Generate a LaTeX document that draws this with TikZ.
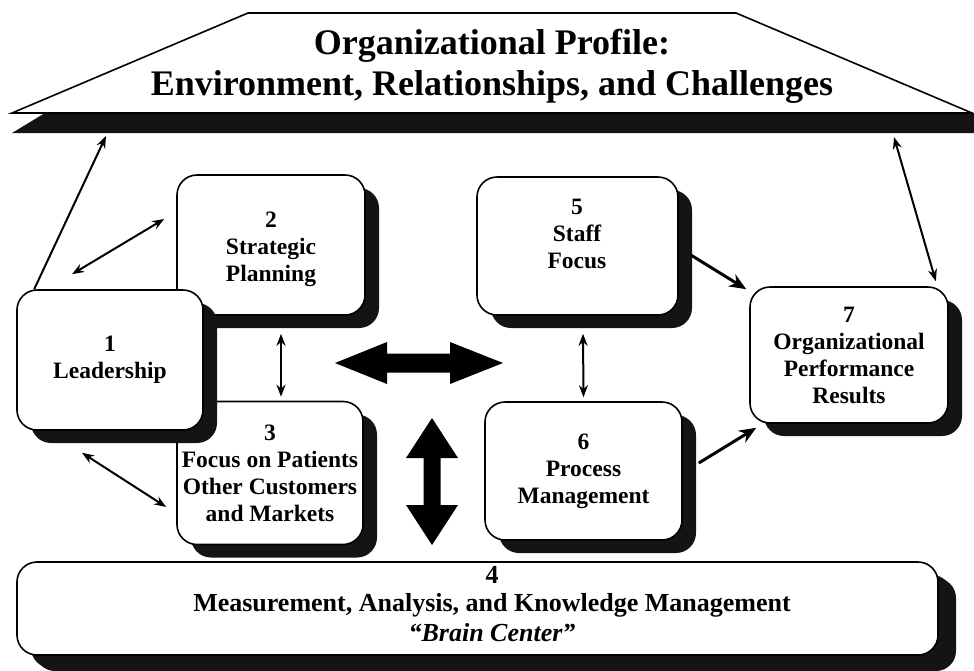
\documentclass[tikz,border=0pt]{standalone}
\usepackage{fontspec}
\setmainfont{Liberation Serif}
\usetikzlibrary{arrows.meta,shadows}

\begin{document}
\begin{tikzpicture}[x=1pt,y=-1pt,
        critbox/.style={draw,line width=1.6pt,fill=white,rounded corners=20pt,
            align=center,inner sep=0pt,
            font=\fontsize{23.5}{27}\selectfont\bfseries,
            drop shadow={shadow xshift=14pt,shadow yshift=-13pt,opacity=1,fill=black!92}},
        boxtext/.style={align=center,inner sep=0pt,font=\fontsize{23.5}{27}\selectfont\bfseries},
        twoway/.style={{Stealth[length=12pt,width=9pt]}-{Stealth[length=12pt,width=9pt]},line width=2pt},
        oneway/.style={-{Stealth[length=12pt,width=9pt]},line width=2pt},
        heavy/.style={-{Stealth[length=17pt,width=14pt]},line width=3pt}]

        \useasboundingbox (0,0) rectangle (974,670);

        % roof
        \fill[black!92] (12,133) -- (45,113) -- (974,113) -- (974,133) -- cycle;
        \draw[line width=1.6pt,fill=white] (12,113) -- (248,13) -- (736,13) -- (972,113) -- cycle;
        \node (roof) [align=center,inner sep=0pt,font=\fontsize{36}{41}\selectfont\bfseries]
            at (492,66) {Organizational Profile:\\Environment, Relationships, and Challenges};
        \coordinate (roofL) at (106,136);
        \coordinate (roofR) at (894,137);

        % criteria boxes
        \node (b2) [critbox,minimum width=188pt,minimum height=140pt] at (271,245) {};
        \node (t2) [boxtext] at (271,249) {2\\Strategic\\Planning};
        \node (b3) [critbox,minimum width=186pt,minimum height=143pt] at (270,473)
            {3\\Focus on Patients\\Other Customers\\and Markets};
        \node (b1) [critbox,minimum width=186pt,minimum height=140pt] at (110,360) {1\\Leadership};

        \node (b5) [critbox,minimum width=201pt,minimum height=138pt] at (577.5,246) {};
        \node (t5) [boxtext] at (577,234) {5\\Staff\\Focus};
        \node (b6) [critbox,minimum width=197pt,minimum height=138pt] at (583.5,471) {6\\Process\\Management};
        \node (b7) [critbox,minimum width=198pt,minimum height=136pt] at (849,355)
            {7\\Organizational\\Performance\\Results};

        \node (b4) [critbox,minimum width=921pt,minimum height=93pt,
            drop shadow={shadow xshift=18pt,shadow yshift=-16pt,opacity=1,fill=black!92}] at (477.5,608.5) {};
        \node (t4) [align=center,inner sep=0pt,font=\fontsize{26}{26}\selectfont\bfseries] at (492,604)
            {4\\[2pt]Measurement, Analysis, and Knowledge Management\\[4pt]{\itshape “Brain Center”}};

        % big arrows
        \fill (335,363) -- (387,342) -- (387,353.5) -- (450,353.5) -- (450,342) -- (503,363)
            -- (450,384) -- (450,372.5) -- (387,372.5) -- (387,384) -- cycle;
        \fill (432,418) -- (458,458) -- (440.5,458) -- (440.5,505) -- (458,505) -- (432,545)
            -- (406,505) -- (423.5,505) -- (423.5,458) -- (406,458) -- cycle;

        % connectors
        \draw[oneway] ([xshift=18pt]b1.north west) -- (roofL);
        \draw[twoway] ([xshift=-38pt,yshift=15pt]b1.north) -- ([xshift=-12pt,yshift=26pt]b2.west);
        \draw[twoway] ([xshift=-28pt,yshift=-22pt]b1.south) -- ([xshift=-10pt,yshift=-34pt]b3.west);
        \draw[twoway] ([xshift=10pt,yshift=-18pt]b2.south) -- ([xshift=11pt,yshift=4pt]b3.north);
        \draw[twoway] ([xshift=5.5pt,yshift=-18pt]b5.south) -- ([yshift=4pt]b6.north);
        \draw[heavy] ([xshift=12pt,yshift=-9pt]b5.east) -- ([xshift=-3pt,yshift=-3pt]b7.north west);
        \draw[heavy] ([xshift=16pt,yshift=8pt]b6.east) -- ([xshift=7pt,yshift=-4pt]b7.south west);
        \draw[twoway] (roofR) -- ([xshift=-13pt,yshift=5pt]b7.north east);
    \end{tikzpicture}
\end{document}
